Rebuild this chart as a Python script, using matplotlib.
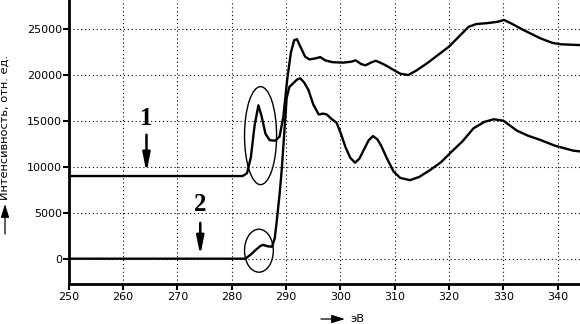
import matplotlib
matplotlib.use("Agg")
import matplotlib.pyplot as plt
from matplotlib.patches import Ellipse, FancyArrowPatch

# ---- data ----
x1 = [250, 282.0, 282.8, 283.5, 284.2, 284.9, 285.5, 286.2, 287.0, 288.0, 288.8, 289.5, 290.2,
      290.9, 291.5, 292.0, 292.7, 293.5, 294.3, 295.3, 296.3, 297.2, 298.5, 300.5, 302.0, 302.8,
      303.8, 304.6, 305.6, 306.5, 307.5, 308.5, 309.8, 311.0, 312.5, 314.0, 316.0, 318.0, 320.0,
      322.0, 323.6, 325.0, 327.0, 329.0, 330.1, 331.5, 333.7, 336.8, 339.0, 340.5, 344.5]
y1 = [9000, 9000, 9300, 11000, 14500, 16700, 15500, 13600, 12900, 12850, 13300, 15500, 19500,
      22500, 23800, 23900, 23000, 22000, 21700, 21800, 21950, 21600, 21400, 21350, 21450, 21600,
      21200, 21050, 21350, 21550, 21300, 21000, 20550, 20150, 20000, 20500, 21300, 22200, 23100,
      24300, 25250, 25550, 25650, 25800, 26000, 25600, 24900, 24000, 23500, 23350, 23250]

x2 = [250, 282.5, 283.5, 284.5, 285.3, 285.8, 286.6, 287.4, 287.9, 288.3, 288.8, 289.2, 289.7,
      290.1, 290.6, 291.3, 292.0, 292.6, 293.3, 294.1, 295.0, 296.0, 296.8, 297.5, 298.4, 299.3,
      300.1, 300.9, 301.8, 302.7, 303.5, 304.3, 305.2, 306.0, 306.8, 307.5, 308.5, 309.8, 311.0,
      312.8, 314.5, 316.5, 318.5, 320.2, 322.5, 324.5, 326.5, 328.2, 330.0, 331.2, 332.5, 334.5,
      336.8, 339.5, 342.9, 344.5]
y2 = [0, 0, 450, 1000, 1400, 1500, 1350, 1300, 2200, 4200, 7000, 9700, 14000,
      17500, 18700, 19100, 19500, 19650, 19200, 18400, 16800, 15700, 15800, 15700, 15200, 14800,
      13600, 12200, 11000, 10450, 10900, 11850, 12900, 13350, 13000, 12300, 11000, 9470, 8800,
      8550, 8900, 9650, 10500, 11500, 12800, 14200, 14900, 15180, 15030, 14500, 13940, 13400,
      12930, 12300, 11760, 11650]

xticks = [250, 260, 270, 280, 290, 300, 310, 320, 330, 340]
yticks = [0, 5000, 10000, 15000, 20000, 25000]
ylabel = "Интенсивность, отн. ед."
xlabel = "эВ"
labels = ["1", "2"]

plt.rcParams['font.family'] = ['DejaVu Sans']

fig = plt.figure(figsize=(5.8, 3.24), dpi=100)
ax = fig.add_axes([0.1186, 0.1235, 0.8814, 0.8765])
ax.set_xlim(250, 344.1)
ax.set_ylim(-2755, 28170)

ax.set_xticks(xticks)
ax.set_yticks(yticks)
ax.tick_params(axis='both', direction='out', length=4, width=1.5, labelsize=8,
               colors='black')
ax.tick_params(axis='y', pad=1)
ax.tick_params(axis='x', pad=2)
for s in ['top', 'right']:
    ax.spines[s].set_visible(False)
for s in ['left', 'bottom']:
    ax.spines[s].set_linewidth(2)

ax.grid(True, color='black', linestyle=(0, (1, 2.5)), linewidth=0.8)
ax.set_axisbelow(True)

ax.plot(x1, y1, color='black', lw=1.7, solid_joinstyle='round')
ax.plot(x2, y2, color='black', lw=1.7, solid_joinstyle='round')

ax.add_patch(Ellipse((285.3, 13400), 5.9, 10670, fill=False, edgecolor='black', lw=1))
ax.add_patch(Ellipse((285.0, 870), 5.3, 4680, fill=False, edgecolor='black', lw=1))

astyle = '-|>,head_length=1.1,head_width=0.22'
ax.text(264.3, 15300, labels[0], fontsize=18, fontweight='bold', family='Liberation Serif',
        ha='center', va='center')
ax.annotate('', xy=(264.3, 9400), xytext=(264.3, 13500),
            arrowprops=dict(arrowstyle=astyle, color='black', lw=1.8, mutation_scale=10,
                            shrinkA=0, shrinkB=0))
ax.text(274.2, 5850, labels[1], fontsize=18, fontweight='bold', family='Liberation Serif',
        ha='center', va='center')
ax.annotate('', xy=(274.2, 350), xytext=(274.2, 3900),
            arrowprops=dict(arrowstyle=astyle, color='black', lw=1.8, mutation_scale=10,
                            shrinkA=0, shrinkB=0))

# axis labels with arrows
fig.text(5 / 580, 1 - 127 / 324, ylabel, rotation=90, fontsize=8.2, ha='center', va='center')
fig.add_artist(FancyArrowPatch((5 / 580, 1 - 234 / 324), (5 / 580, 1 - 204 / 324),
               transform=fig.transFigure, arrowstyle='-|>,head_length=0.8,head_width=0.25',
               mutation_scale=10, lw=0.9, color='black', shrinkA=0, shrinkB=0))
fig.text(350 / 580, 1 - 319 / 324, xlabel, fontsize=8.2, ha='left', va='center')
fig.add_artist(FancyArrowPatch((321 / 580, 1 - 319 / 324), (345 / 580, 1 - 319 / 324),
               transform=fig.transFigure, arrowstyle='-|>,head_length=0.8,head_width=0.25',
               mutation_scale=10, lw=0.9, color='black', shrinkA=0, shrinkB=0))

fig.savefig('out.png', dpi=100)
